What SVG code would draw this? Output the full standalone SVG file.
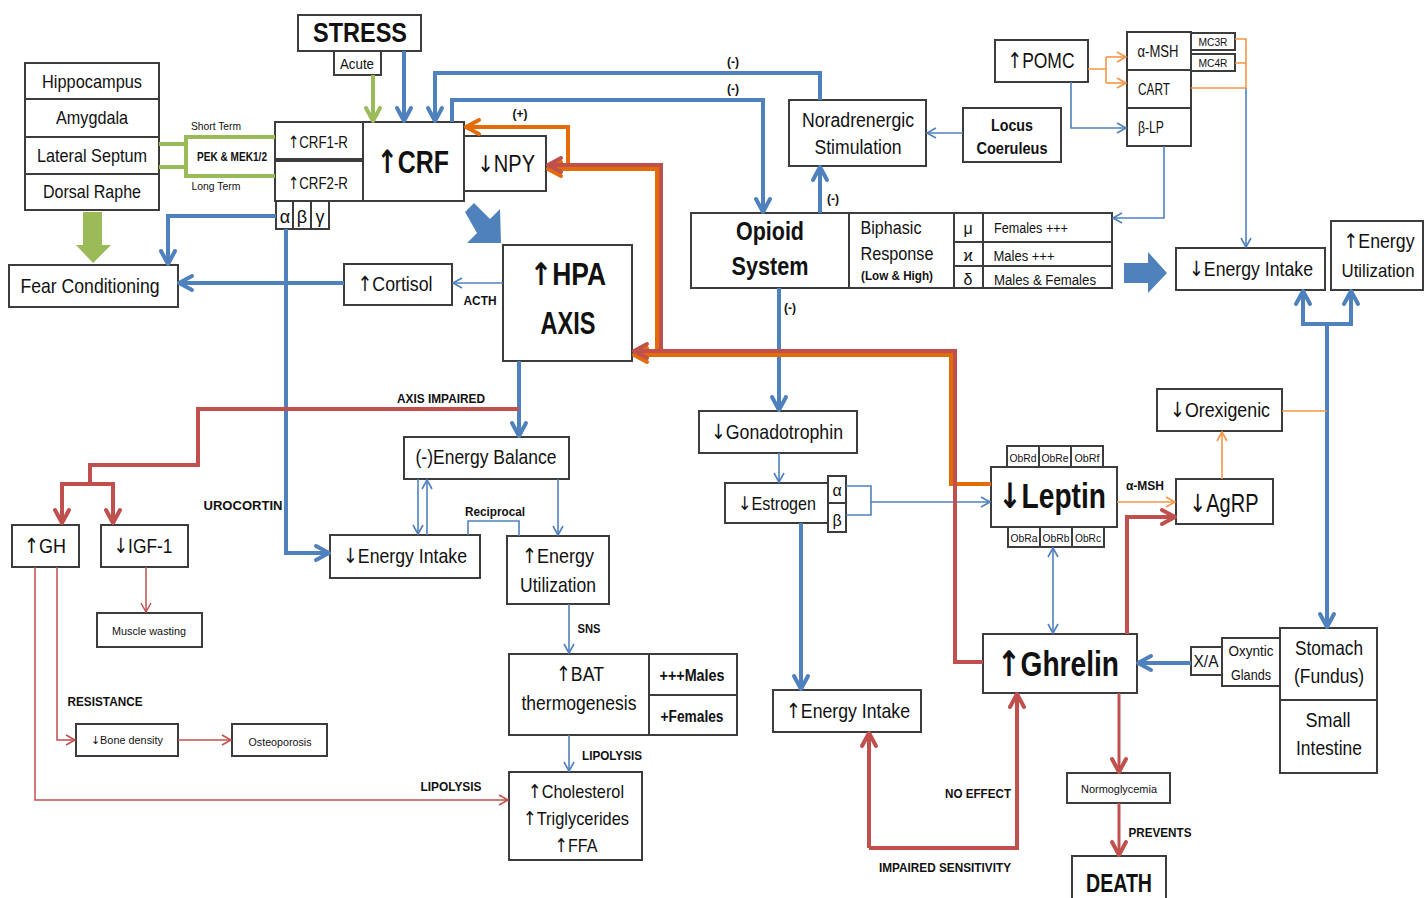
<svg xmlns="http://www.w3.org/2000/svg" width="1424" height="898" viewBox="0 0 1424 898">
<style>
.bx{fill:#fff;stroke:#3c3c3c;stroke-width:2}
.ln{fill:none;stroke:#3c3c3c;stroke-width:2}
text{fill:#111;text-anchor:middle}
.t{font-family:"Liberation Sans",Arial,sans-serif}
.tb{font-family:"Liberation Sans",Arial,sans-serif;font-weight:bold}
.c{font-family:"Liberation Sans",Arial,sans-serif}
.cb{font-family:"Liberation Sans",Arial,sans-serif;font-weight:bold}
.lb{font-family:"Liberation Sans",Arial,sans-serif;font-weight:bold;font-size:12px}
.ar{font-family:"DejaVu Sans",sans-serif}
.bT{fill:none;stroke:#4F81BD;stroke-width:4}
.bt{fill:none;stroke:#4F81BD;stroke-width:1.6}
.rT{fill:none;stroke:#C0504D;stroke-width:4}
.rm{fill:none;stroke:#C0504D;stroke-width:3}
.rt{fill:none;stroke:#C0504D;stroke-width:1.5}
.oT{fill:none;stroke:#E36C09;stroke-width:4}
.ot{fill:none;stroke:#F79646;stroke-width:1.6}
.gT{fill:none;stroke:#9BBB59;stroke-width:4}
</style>
<defs>
<marker id="aB" viewBox="0 0 22 20" refX="18" refY="10" markerWidth="22" markerHeight="20" markerUnits="userSpaceOnUse" orient="auto-start-reverse"><path d="M5,3 L18,10 L5,17" fill="none" stroke="#4F81BD" stroke-width="4" stroke-linejoin="round" stroke-linecap="round"/></marker>
<marker id="aBt" viewBox="0 0 14 14" refX="12" refY="7" markerWidth="14" markerHeight="14" markerUnits="userSpaceOnUse" orient="auto-start-reverse"><path d="M3,2 L12,7 L3,12" fill="none" stroke="#4F81BD" stroke-width="1.6"/></marker>
<marker id="aR" viewBox="0 0 22 20" refX="18" refY="10" markerWidth="22" markerHeight="20" markerUnits="userSpaceOnUse" orient="auto-start-reverse"><path d="M5,3 L18,10 L5,17" fill="none" stroke="#C0504D" stroke-width="4" stroke-linejoin="round" stroke-linecap="round"/></marker>
<marker id="aRt" viewBox="0 0 14 14" refX="12" refY="7" markerWidth="14" markerHeight="14" markerUnits="userSpaceOnUse" orient="auto-start-reverse"><path d="M3,2 L12,7 L3,12" fill="none" stroke="#C0504D" stroke-width="1.5"/></marker>
<marker id="aO" viewBox="0 0 22 20" refX="18" refY="10" markerWidth="22" markerHeight="20" markerUnits="userSpaceOnUse" orient="auto-start-reverse"><path d="M5,3 L18,10 L5,17" fill="none" stroke="#E36C09" stroke-width="4" stroke-linejoin="round" stroke-linecap="round"/></marker>
<marker id="aOt" viewBox="0 0 14 14" refX="12" refY="7" markerWidth="14" markerHeight="14" markerUnits="userSpaceOnUse" orient="auto-start-reverse"><path d="M3,2 L12,7 L3,12" fill="none" stroke="#F79646" stroke-width="1.6"/></marker>
<marker id="aG" viewBox="0 0 22 20" refX="18" refY="10" markerWidth="22" markerHeight="20" markerUnits="userSpaceOnUse" orient="auto-start-reverse"><path d="M5,3 L18,10 L5,17" fill="none" stroke="#9BBB59" stroke-width="4" stroke-linejoin="round" stroke-linecap="round"/></marker>
</defs>
<rect width="1424" height="898" fill="#fff"/>

<g id="nodes">
<g id="stress"><rect class="bx" x="298" y="15" width="123" height="36"/><text class="tb" x="360" y="42" font-size="27" textLength="94" lengthAdjust="spacingAndGlyphs">STRESS</text></g>
<g id="acute"><rect class="bx" x="334" y="51" width="47" height="24"/><text class="t" x="357" y="69" font-size="15" textLength="34" lengthAdjust="spacingAndGlyphs">Acute</text></g>
<g id="brain">
<rect class="bx" x="25" y="63" width="134" height="36"/><text class="t" x="92" y="88" font-size="19" textLength="100" lengthAdjust="spacingAndGlyphs">Hippocampus</text>
<rect class="bx" x="25" y="99" width="134" height="38"/><text class="t" x="92" y="124" font-size="19" textLength="72" lengthAdjust="spacingAndGlyphs">Amygdala</text>
<rect class="bx" x="25" y="137" width="134" height="37"/><text class="t" x="92" y="162" font-size="19" textLength="110" lengthAdjust="spacingAndGlyphs">Lateral Septum</text>
<rect class="bx" x="25" y="174" width="134" height="36"/><text class="t" x="92" y="198" font-size="19" textLength="98" lengthAdjust="spacingAndGlyphs">Dorsal Raphe</text>
</g>
<g id="crf1r"><rect class="bx" x="275" y="122" width="88" height="37"/><text class="t" x="318" y="148" font-size="17" textLength="60" lengthAdjust="spacingAndGlyphs"><tspan class="ar">↑</tspan>CRF1-R</text></g>
<g id="crf2r"><rect class="bx" x="275" y="161" width="88" height="40"/><text class="t" x="318" y="189" font-size="17" textLength="60" lengthAdjust="spacingAndGlyphs"><tspan class="ar">↑</tspan>CRF2-R</text></g>
<g id="crf"><rect class="bx" x="363" y="122" width="101" height="79"/><text class="tb" x="413" y="173" font-size="32" textLength="72" lengthAdjust="spacingAndGlyphs"><tspan class="ar">↑</tspan>CRF</text></g>
<g id="npy"><rect class="bx" x="464" y="136" width="82" height="55"/><text class="t" x="506" y="172" font-size="23" textLength="58" lengthAdjust="spacingAndGlyphs"><tspan class="ar">↓</tspan>NPY</text></g>
<g id="abg">
<rect class="bx" x="276" y="201" width="17" height="28"/><text class="t" x="285" y="223" font-size="18">α</text>
<rect class="bx" x="293" y="201" width="18" height="28"/><text class="t" x="302" y="223" font-size="18">β</text>
<rect class="bx" x="311" y="201" width="18" height="28"/><text class="t" x="320" y="223" font-size="18">γ</text>
</g>
<g id="fear"><rect class="bx" x="9" y="265" width="169" height="42"/><text class="t" x="90" y="293" font-size="21" textLength="139" lengthAdjust="spacingAndGlyphs">Fear Conditioning</text></g>
<g id="cortisol"><rect class="bx" x="344" y="264" width="108" height="41"/><text class="t" x="395" y="291" font-size="21" textLength="75" lengthAdjust="spacingAndGlyphs"><tspan class="ar">↑</tspan>Cortisol</text></g>
<g id="hpa"><rect class="bx" x="503" y="245" width="129" height="116"/><text class="tb" x="568" y="285" font-size="31" textLength="76" lengthAdjust="spacingAndGlyphs"><tspan class="ar">↑</tspan>HPA</text><text class="tb" x="568" y="334" font-size="31" textLength="55" lengthAdjust="spacingAndGlyphs">AXIS</text></g>
<g id="noradrenergic"><rect class="bx" x="789" y="100" width="137" height="66"/><text class="t" x="858" y="127" font-size="20" textLength="112" lengthAdjust="spacingAndGlyphs">Noradrenergic</text><text class="t" x="858" y="154" font-size="20" textLength="87" lengthAdjust="spacingAndGlyphs">Stimulation</text></g>
<g id="locus"><rect class="bx" x="963" y="108" width="98" height="54"/><text class="cb" x="1012" y="131" font-size="16" textLength="42" lengthAdjust="spacingAndGlyphs">Locus</text><text class="cb" x="1012" y="154" font-size="16" textLength="71" lengthAdjust="spacingAndGlyphs">Coeruleus</text></g>
<g id="pomc"><rect class="bx" x="995" y="40" width="93" height="42"/><text class="t" x="1041" y="68" font-size="22" textLength="67" lengthAdjust="spacingAndGlyphs"><tspan class="ar">↑</tspan>POMC</text></g>
<g id="pomcStack">
<rect class="bx" x="1127" y="32" width="64" height="38"/><text class="t" x="1158" y="57" font-size="16" textLength="41" lengthAdjust="spacingAndGlyphs">α-MSH</text>
<rect class="bx" x="1127" y="70" width="64" height="38"/><text class="t" x="1154" y="95" font-size="16" textLength="32" lengthAdjust="spacingAndGlyphs">CART</text>
<rect class="bx" x="1127" y="108" width="64" height="38"/><text class="t" x="1151" y="133" font-size="16" textLength="26" lengthAdjust="spacingAndGlyphs">β-LP</text>
<rect class="bx" x="1191" y="33" width="44" height="17"/><text class="c" x="1213" y="46" font-size="11" textLength="29" lengthAdjust="spacingAndGlyphs">MC3R</text>
<rect class="bx" x="1191" y="54" width="44" height="17"/><text class="c" x="1213" y="67" font-size="11" textLength="29" lengthAdjust="spacingAndGlyphs">MC4R</text>
</g>
<g id="opioid">
<rect class="bx" x="691" y="213" width="421" height="75"/>
<path class="ln" d="M849,213 V288 M954,213 V288 M983,213 V288 M954,242 H1112 M954,266 H1112"/>
<text class="cb" x="770" y="240" font-size="26" textLength="68" lengthAdjust="spacingAndGlyphs">Opioid</text><text class="cb" x="770" y="275" font-size="26" textLength="77" lengthAdjust="spacingAndGlyphs">System</text>
<text class="t" x="891" y="234" font-size="19" textLength="61" lengthAdjust="spacingAndGlyphs">Biphasic</text>
<text class="t" x="897" y="260" font-size="19" textLength="73" lengthAdjust="spacingAndGlyphs">Response</text>
<text class="tb" x="897" y="280" font-size="13" textLength="72" lengthAdjust="spacingAndGlyphs">(Low &amp; High)</text>
<text class="c" x="968" y="234" font-size="16">μ</text><text class="c" x="968" y="261" font-size="16">ϰ</text><text class="c" x="968" y="285" font-size="16">δ</text>
<text class="c" x="1031" y="233" font-size="14" textLength="74" lengthAdjust="spacingAndGlyphs">Females +++</text>
<text class="c" x="1024" y="261" font-size="14" textLength="61" lengthAdjust="spacingAndGlyphs">Males +++</text>
<text class="c" x="1045" y="285" font-size="14" textLength="102" lengthAdjust="spacingAndGlyphs">Males &amp; Females</text>
</g>
<g id="energyIntakeR"><rect class="bx" x="1176" y="248" width="149" height="42"/><text class="t" x="1251" y="276" font-size="21" textLength="124" lengthAdjust="spacingAndGlyphs"><tspan class="ar">↓</tspan>Energy Intake</text></g>
<g id="energyUtilR"><rect class="bx" x="1331" y="221" width="92" height="69"/><text class="t" x="1379" y="248" font-size="20" textLength="71" lengthAdjust="spacingAndGlyphs"><tspan class="ar">↑</tspan>Energy</text><text class="t" x="1378" y="277" font-size="19" textLength="73" lengthAdjust="spacingAndGlyphs">Utilization</text></g>
<g id="orexigenic"><rect class="bx" x="1157" y="389" width="125" height="42"/><text class="t" x="1220" y="417" font-size="21" textLength="100" lengthAdjust="spacingAndGlyphs"><tspan class="ar">↓</tspan>Orexigenic</text></g>
<g id="leptin">
<rect class="bx" x="991" y="467" width="126" height="60"/><text class="tb" x="1052" y="508" font-size="35" textLength="108" lengthAdjust="spacingAndGlyphs"><tspan class="ar">↓</tspan>Leptin</text>
<rect class="bx" x="1007" y="446" width="32" height="21"/><text class="c" x="1023" y="462" font-size="11" textLength="27" lengthAdjust="spacingAndGlyphs">ObRd</text>
<rect class="bx" x="1039" y="446" width="32" height="21"/><text class="c" x="1055" y="462" font-size="11" textLength="27" lengthAdjust="spacingAndGlyphs">ObRe</text>
<rect class="bx" x="1071" y="446" width="32" height="21"/><text class="c" x="1087" y="462" font-size="11" textLength="25" lengthAdjust="spacingAndGlyphs">ObRf</text>
<rect class="bx" x="1008" y="527" width="32" height="20"/><text class="c" x="1024" y="542" font-size="11" textLength="27" lengthAdjust="spacingAndGlyphs">ObRa</text>
<rect class="bx" x="1040" y="527" width="32" height="20"/><text class="c" x="1056" y="542" font-size="11" textLength="27" lengthAdjust="spacingAndGlyphs">ObRb</text>
<rect class="bx" x="1072" y="527" width="32" height="20"/><text class="c" x="1088" y="542" font-size="11" textLength="26" lengthAdjust="spacingAndGlyphs">ObRc</text>
</g>
<g id="agrp"><rect class="bx" x="1176" y="479" width="97" height="45"/><text class="t" x="1224" y="512" font-size="25" textLength="69" lengthAdjust="spacingAndGlyphs"><tspan class="ar">↓</tspan>AgRP</text></g>
<g id="ghrelin"><rect class="bx" x="983" y="634" width="154" height="59"/><text class="tb" x="1058" y="676" font-size="35" textLength="122" lengthAdjust="spacingAndGlyphs"><tspan class="ar">↑</tspan>Ghrelin</text></g>
<g id="xa"><rect class="bx" x="1191" y="647" width="31" height="28"/><text class="t" x="1206" y="667" font-size="16" textLength="25" lengthAdjust="spacingAndGlyphs">X/A</text></g>
<g id="oxyntic"><rect class="bx" x="1222" y="638" width="58" height="48"/><text class="c" x="1251" y="656" font-size="14" textLength="45" lengthAdjust="spacingAndGlyphs">Oxyntic</text><text class="c" x="1251" y="680" font-size="14" textLength="40" lengthAdjust="spacingAndGlyphs">Glands</text></g>
<g id="stomach"><rect class="bx" x="1280" y="628" width="97" height="72"/><text class="t" x="1329" y="655" font-size="21" textLength="68" lengthAdjust="spacingAndGlyphs">Stomach</text><text class="t" x="1329" y="683" font-size="21" textLength="70" lengthAdjust="spacingAndGlyphs">(Fundus)</text></g>
<g id="intestine"><rect class="bx" x="1280" y="700" width="97" height="73"/><text class="t" x="1328" y="727" font-size="21" textLength="45" lengthAdjust="spacingAndGlyphs">Small</text><text class="t" x="1329" y="755" font-size="21" textLength="66" lengthAdjust="spacingAndGlyphs">Intestine</text></g>
<g id="gonadotrophin"><rect class="bx" x="699" y="411" width="158" height="42"/><text class="t" x="777" y="439" font-size="21" textLength="132" lengthAdjust="spacingAndGlyphs"><tspan class="ar">↓</tspan>Gonadotrophin</text></g>
<g id="estrogen">
<rect class="bx" x="725" y="483" width="103" height="40"/><text class="t" x="777" y="510" font-size="19" textLength="78" lengthAdjust="spacingAndGlyphs"><tspan class="ar">↓</tspan>Estrogen</text>
<rect class="bx" x="828" y="476" width="18" height="27"/><text class="t" x="837" y="496" font-size="16">α</text>
<rect class="bx" x="828" y="503" width="18" height="29"/><text class="t" x="837" y="526" font-size="16">β</text>
</g>
<g id="energyIntakeM"><rect class="bx" x="773" y="690" width="148" height="42"/><text class="t" x="848" y="718" font-size="21" textLength="124" lengthAdjust="spacingAndGlyphs"><tspan class="ar">↑</tspan>Energy Intake</text></g>
<g id="normoglycemia"><rect class="bx" x="1067" y="773" width="103" height="30"/><text class="c" x="1119" y="793" font-size="11" textLength="76" lengthAdjust="spacingAndGlyphs">Normoglycemia</text></g>
<g id="death"><rect class="bx" x="1072" y="856" width="94" height="50"/><text class="tb" x="1119" y="892" font-size="25" textLength="66" lengthAdjust="spacingAndGlyphs">DEATH</text></g>
<g id="energyBalance"><rect class="bx" x="404" y="437" width="165" height="42"/><text class="t" x="486" y="464" font-size="21" textLength="141" lengthAdjust="spacingAndGlyphs">(-)Energy Balance</text></g>
<g id="energyIntakeL"><rect class="bx" x="330" y="535" width="150" height="43"/><text class="t" x="405" y="563" font-size="21" textLength="124" lengthAdjust="spacingAndGlyphs"><tspan class="ar">↓</tspan>Energy Intake</text></g>
<g id="energyUtilM"><rect class="bx" x="507" y="536" width="102" height="68"/><text class="t" x="558" y="563" font-size="21" textLength="72" lengthAdjust="spacingAndGlyphs"><tspan class="ar">↑</tspan>Energy</text><text class="t" x="558" y="592" font-size="21" textLength="76" lengthAdjust="spacingAndGlyphs">Utilization</text></g>
<g id="bat">
<rect class="bx" x="509" y="654" width="228" height="81"/><path class="ln" d="M649,654 V735 M649,695 H737"/>
<text class="t" x="580" y="681" font-size="21" textLength="48" lengthAdjust="spacingAndGlyphs"><tspan class="ar">↑</tspan>BAT</text><text class="t" x="579" y="710" font-size="21" textLength="115" lengthAdjust="spacingAndGlyphs">thermogenesis</text>
<text class="tb" x="692" y="681" font-size="16" textLength="65" lengthAdjust="spacingAndGlyphs">+++Males</text><text class="tb" x="692" y="722" font-size="16" textLength="63" lengthAdjust="spacingAndGlyphs">+Females</text>
</g>
<g id="cholesterol"><rect class="bx" x="509" y="772" width="133" height="88"/>
<text class="t" x="576" y="798" font-size="19" textLength="96" lengthAdjust="spacingAndGlyphs"><tspan class="ar">↑</tspan>Cholesterol</text><text class="t" x="576" y="825" font-size="19" textLength="106" lengthAdjust="spacingAndGlyphs"><tspan class="ar">↑</tspan>Triglycerides</text><text class="t" x="576" y="852" font-size="19" textLength="43" lengthAdjust="spacingAndGlyphs"><tspan class="ar">↑</tspan>FFA</text></g>
<g id="gh"><rect class="bx" x="12" y="525" width="67" height="42"/><text class="t" x="45" y="553" font-size="21" textLength="42" lengthAdjust="spacingAndGlyphs"><tspan class="ar">↑</tspan>GH</text></g>
<g id="igf1"><rect class="bx" x="101" y="525" width="87" height="42"/><text class="t" x="143" y="553" font-size="21" textLength="59" lengthAdjust="spacingAndGlyphs"><tspan class="ar">↓</tspan>IGF-1</text></g>
<g id="muscle"><rect class="bx" x="97" y="613" width="105" height="34"/><text class="c" x="149" y="635" font-size="11" textLength="74" lengthAdjust="spacingAndGlyphs">Muscle wasting</text></g>
<g id="bone"><rect class="bx" x="76" y="724" width="102" height="32"/><text class="c" x="127" y="744" font-size="11" textLength="72" lengthAdjust="spacingAndGlyphs"><tspan class="ar">↓</tspan>Bone density</text></g>
<g id="osteo"><rect class="bx" x="232" y="724" width="95" height="32"/><text class="c" x="280" y="746" font-size="11" textLength="63" lengthAdjust="spacingAndGlyphs">Osteoporosis</text></g>
</g>

<g id="connectors">
<path class="bT" d="M404,51 V121" marker-end="url(#aB)"/>
<path class="bT" d="M820,100 V73 H435 V121" marker-end="url(#aB)"/>
<path class="bT" d="M452,122 V100 H763 V212" marker-end="url(#aB)"/>
<path class="bT" d="M820,213 V167" marker-end="url(#aB)"/>
<path class="bT" d="M779,288 V410" marker-end="url(#aB)"/>
<path class="bT" d="M801,523 V689" marker-end="url(#aB)"/>
<path class="bT" d="M519,361 V436" marker-end="url(#aB)"/>
<path class="bT" d="M276,216 H168 V264" marker-end="url(#aB)"/>
<path class="bT" d="M286,229 V553 H329" marker-end="url(#aB)"/>
<path class="bT" d="M344,283 H179" marker-end="url(#aB)"/>
<path class="bT" d="M1191,663 H1138" marker-end="url(#aB)"/>
<path class="bT" d="M1327,324 V627" marker-end="url(#aB)"/>
<path class="bT" d="M1327,324 H1303 V291" marker-end="url(#aB)"/>
<path class="bT" d="M1327,324 H1351 V291" marker-end="url(#aB)"/>
<polygon points="1124,263 1148,263 1148,252 1167,273 1148,293 1148,283 1124,283" fill="#4F81BD"/>
<polygon points="465,212 474,203 490,219 500,209 501,243 467,243 477,233" fill="#4F81BD"/>
<path class="bt" d="M963,133 H927" marker-end="url(#aBt)"/>
<path class="bt" d="M503,283 H453" marker-end="url(#aBt)"/>
<path class="bt" d="M1071,82 V128 H1126" marker-end="url(#aBt)"/>
<path class="bt" d="M1164,146 V218 H1113" marker-end="url(#aBt)"/>
<path class="bt" d="M1246,88 V247" marker-end="url(#aBt)"/>
<path class="bt" d="M779,453 V482" marker-end="url(#aBt)"/>
<path class="bt" d="M846,486 H871 V515 H846"/>
<path class="bt" d="M871,502 H990" marker-end="url(#aBt)"/>
<path class="bt" d="M1053,548 V633" marker-start="url(#aBt)" marker-end="url(#aBt)"/>
<path class="bt" d="M418,479 V534" marker-end="url(#aBt)"/>
<path class="bt" d="M427,535 V480" marker-end="url(#aBt)"/>
<path class="bt" d="M468,535 V521 H519 V536"/>
<path class="bt" d="M558,479 V535" marker-end="url(#aBt)"/>
<path class="bt" d="M569,604 V653" marker-end="url(#aBt)"/>
<path class="bt" d="M569,735 V771" marker-end="url(#aBt)"/>
<path class="oT" d="M568,167 V127 H466" marker-end="url(#aO)"/>
<path class="oT" d="M991,484 H951 V355 H634" marker-end="url(#aO)"/>
<path class="oT" d="M657,355 V169 H548" marker-end="url(#aO)"/>
<path class="rT" d="M983,662 H955 V351 H634" marker-end="url(#aR)"/>
<path class="rT" d="M661,351 V165 H548" marker-end="url(#aR)"/>
<path class="rT" d="M519,409 H198 V465 H90 V484"/>
<path class="rT" d="M90,484 H62 V523" marker-end="url(#aR)"/>
<path class="rT" d="M90,484 H113 V523" marker-end="url(#aR)"/>
<path class="rT" d="M1127,634 V517 H1175" marker-end="url(#aR)"/>
<path class="rm" d="M1119,693 V772" marker-end="url(#aR)"/>
<path class="rm" d="M1119,803 V855" marker-end="url(#aR)"/>
<path class="rT" d="M869,848 V733" marker-end="url(#aR)"/>
<path class="rT" d="M869,848 H1017 V694" marker-end="url(#aR)"/>
<path class="rt" d="M146,567 V612" marker-end="url(#aRt)"/>
<path class="rt" d="M57,567 V740 H75" marker-end="url(#aRt)"/>
<path class="rt" d="M35,567 V800 H508" marker-end="url(#aRt)"/>
<path class="rt" d="M178,740 H231" marker-end="url(#aRt)"/>
<path class="ot" d="M1088,69 H1106 M1106,57 V83"/>
<path class="ot" d="M1106,57 H1126" marker-end="url(#aOt)"/>
<path class="ot" d="M1106,83 H1126" marker-end="url(#aOt)"/>
<path class="ot" d="M1235,39 H1246 V88 M1235,63 H1246 M1191,88 H1246"/>
<path class="ot" d="M1117,502 H1175" marker-end="url(#aOt)"/>
<path class="ot" d="M1222,479 V432" marker-end="url(#aOt)"/>
<path class="ot" d="M1282,411 H1327"/>
<path class="gT" d="M373,75 V121" marker-end="url(#aG)"/>
<path class="gT" d="M159,144 H186 M159,167 H186 M275,137 H186 V176 H275"/>
<polygon points="83,212 102,212 102,245 111,245 93,263 76,245 83,245" fill="#9BBB59"/>
<text class="lb" x="733" y="66" font-size="13">(-)</text>
<text class="lb" x="733" y="93" font-size="13">(-)</text>
<text class="lb" x="520" y="118" font-size="13">(+)</text>
<text class="lb" x="833" y="203" font-size="13">(-)</text>
<text class="lb" x="790" y="312" font-size="13">(-)</text>
<text class="c" x="216" y="130" font-size="11" textLength="50" lengthAdjust="spacingAndGlyphs">Short Term</text>
<text class="c" x="216" y="190" font-size="11" textLength="49" lengthAdjust="spacingAndGlyphs">Long Term</text>
<text class="lb" x="232" y="161" font-size="10" textLength="70" lengthAdjust="spacingAndGlyphs">PEK &amp; MEK1/2</text>
<text class="lb" x="480" y="305" textLength="33" lengthAdjust="spacingAndGlyphs">ACTH</text>
<text class="lb" x="441" y="403" textLength="88" lengthAdjust="spacingAndGlyphs">AXIS IMPAIRED</text>
<text class="lb" x="243" y="510" font-size="14" textLength="79" lengthAdjust="spacingAndGlyphs">UROCORTIN</text>
<text class="lb" x="495" y="516" textLength="60" lengthAdjust="spacingAndGlyphs">Reciprocal</text>
<text class="lb" x="589" y="633" textLength="23" lengthAdjust="spacingAndGlyphs">SNS</text>
<text class="lb" x="612" y="760" textLength="60" lengthAdjust="spacingAndGlyphs">LIPOLYSIS</text>
<text class="lb" x="451" y="791" textLength="61" lengthAdjust="spacingAndGlyphs">LIPOLYSIS</text>
<text class="lb" x="105" y="706" textLength="75" lengthAdjust="spacingAndGlyphs">RESISTANCE</text>
<text class="lb" x="1145" y="490" textLength="38" lengthAdjust="spacingAndGlyphs">α-MSH</text>
<text class="lb" x="978" y="798" textLength="66" lengthAdjust="spacingAndGlyphs">NO EFFECT</text>
<text class="lb" x="945" y="872" textLength="132" lengthAdjust="spacingAndGlyphs">IMPAIRED SENSITIVITY</text>
<text class="lb" x="1160" y="837" textLength="63" lengthAdjust="spacingAndGlyphs">PREVENTS</text>
</g>
</svg>
